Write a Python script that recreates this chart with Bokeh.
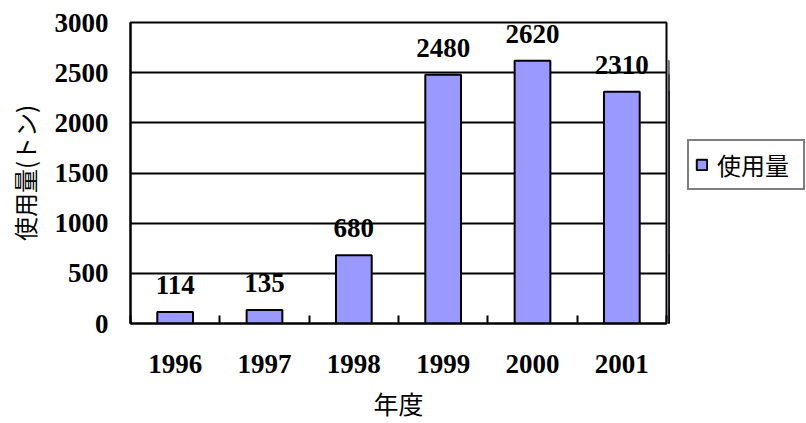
from bokeh.plotting import figure
from bokeh.models import ColumnDataSource, FixedTicker, Range1d, Legend, LegendItem, LabelSet
from bokeh.layouts import row
from bokeh.embed import file_html
from bokeh.resources import INLINE

years = ["1996", "1997", "1998", "1999", "2000", "2001"]
usage = [114, 135, 680, 2480, 2620, 2310]
y_ticks = [0, 500, 1000, 1500, 2000, 2500, 3000]
series_name = "使用量"

xs = list(range(1, len(years) + 1))
src = ColumnDataSource(dict(x=xs, top=usage, label=[str(v) for v in usage]))

p = figure(width=668, height=423, output_backend="svg", toolbar_location=None,
           x_range=Range1d(0.5, len(years) + 0.5), y_range=Range1d(0, 3000),
           min_border_left=130, min_border_right=2, min_border_top=22, min_border_bottom=97)
p.outline_line_color = "black"
p.outline_line_width = 2

bar_style = dict(fill_color="#9999FF", line_color="black", line_width=2)
r = p.vbar(x="x", top="top", width=0.4, source=src, **bar_style)

serif = "Liberation Serif"
jp = "Noto Sans CJK JP"

labels = LabelSet(x="x", y="top", text="label", source=src, text_align="center",
                  text_baseline="bottom", y_offset=18, text_font=serif,
                  text_font_style="bold", text_font_size="27px", text_color="black")
p.add_layout(labels)

p.xaxis.ticker = FixedTicker(ticks=xs, minor_ticks=[x + 0.5 for x in range(0, len(years) + 1)])
p.xaxis.major_label_overrides = {x: y for x, y in zip(xs, years)}
p.xaxis.major_tick_in = 0
p.xaxis.major_tick_out = 0
p.xaxis.minor_tick_in = 8
p.xaxis.minor_tick_out = 0
p.xaxis.minor_tick_line_color = "black"
p.xaxis.minor_tick_line_width = 2
p.xaxis.axis_line_color = "black"
p.xaxis.axis_line_width = 2
p.xaxis.major_label_standoff = 31
p.xaxis.major_label_text_font = serif
p.xaxis.major_label_text_font_style = "bold"
p.xaxis.major_label_text_font_size = "27px"
p.xaxis.major_label_text_color = "black"
p.xaxis.axis_label = "年度"
p.xaxis.axis_label_text_font = jp
p.xaxis.axis_label_text_font_style = "normal"
p.xaxis.axis_label_text_font_size = "25px"
p.xaxis.axis_label_text_color = "black"
p.xaxis.axis_label_standoff = 9

p.yaxis.ticker = FixedTicker(ticks=y_ticks)
p.yaxis.major_tick_in = 0
p.yaxis.major_tick_out = 0
p.yaxis.minor_tick_line_color = None
p.yaxis.axis_line_color = "black"
p.yaxis.axis_line_width = 2
p.yaxis.major_label_standoff = 22
p.yaxis.major_label_text_font = serif
p.yaxis.major_label_text_font_style = "bold"
p.yaxis.major_label_text_font_size = "27px"
p.yaxis.major_label_text_color = "black"
p.yaxis.axis_label = "使用量(トン)"
p.yaxis.axis_label_text_font = jp
p.yaxis.axis_label_text_font_style = "normal"
p.yaxis.axis_label_text_font_size = "24px"
p.yaxis.axis_label_text_color = "black"
p.yaxis.axis_label_standoff = 10

p.xgrid.grid_line_color = None
p.ygrid.ticker = FixedTicker(ticks=y_ticks)
p.ygrid.grid_line_color = "black"
p.ygrid.grid_line_width = 2

# legend panel (its own ranges keep the series' bars out of view; only the legend shows)
p2 = figure(width=138, height=423, output_backend="svg", toolbar_location=None,
            x_axis_location=None, y_axis_location=None, min_border=0,
            x_range=Range1d(100, 101), y_range=Range1d(0, 3000))
p2.outline_line_color = None
p2.outline_line_alpha = 0
p2.grid.visible = False
p2.border_fill_color = "white"
r2 = p2.vbar(x="x", top="top", width=0.4, source=src, **bar_style)

legend = Legend(items=[LegendItem(label=series_name, renderers=[r2])], location=(19, 133))
legend.border_line_color = "black"
legend.border_line_width = 2
legend.label_text_font = jp
legend.label_text_font_size = "24px"
legend.label_text_color = "black"
legend.glyph_width = 13
legend.glyph_height = 13
legend.label_standoff = 9
legend.label_width = 80
legend.padding = 6
legend.margin = 0
legend.background_fill_color = "white"
p2.add_layout(legend)

layout = row(p, p2, spacing=0)
open("out.html", "w").write(file_html(layout, INLINE))
